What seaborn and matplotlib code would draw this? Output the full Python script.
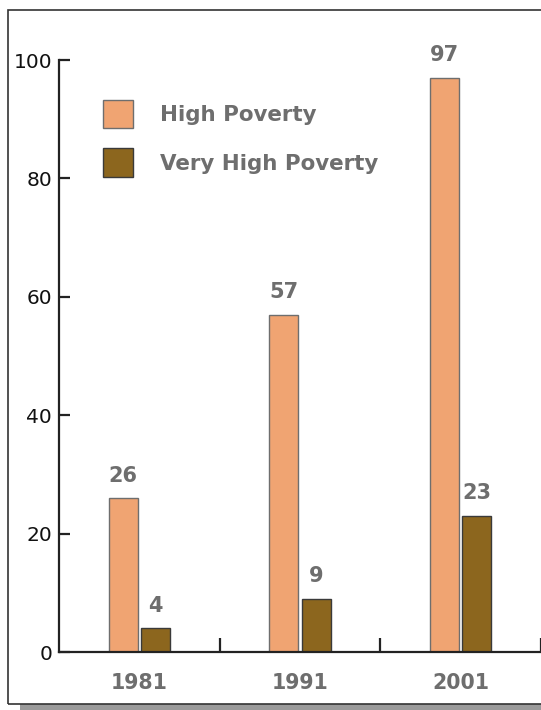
import matplotlib
matplotlib.use("Agg")
import matplotlib.pyplot as plt
import matplotlib.patches as mpatches
import seaborn as sns
import pandas as pd

# Data: number of high-poverty neighbourhoods by census year
years = ["1981", "1991", "2001"]
high_poverty = [26, 57, 97]
very_high_poverty = [4, 9, 23]
series_names = ["High Poverty", "Very High Poverty"]
y_ticks = [0, 20, 40, 60, 80, 100]

colors = ["#F0A472", "#8C661E"]
edge_colors = ["#6E6E6E", "#3A3A3A"]
label_gray = "#6E6E6E"

df = pd.DataFrame({
    "year": years * 2,
    "series": [series_names[0]] * 3 + [series_names[1]] * 3,
    "value": high_poverty + very_high_poverty,
})

sns.set_theme(style="white")
plt.rcParams["font.family"] = ["DejaVu Sans"]

fig = plt.figure(figsize=(5.41, 7.10), dpi=100)
W, H = 541, 710
ax = fig.add_axes([59 / W, 58 / H, 1 - 59 / W, (652 - 60) / H])

sns.barplot(data=df, x="year", y="value", hue="series", order=years,
            hue_order=series_names, palette=colors, width=0.4, gap=0.1,
            saturation=1, legend=False, ax=ax)

for container, ec in zip(ax.containers, edge_colors):
    for bar in container:
        bar.set_edgecolor(ec)
        bar.set_linewidth(1.0)
    ax.bar_label(container, padding=9, fontsize=15, fontweight="bold",
                 color=label_gray)

ax.set_xlim(-0.5, 2.5)
ax.set_ylim(0, 100)
ax.set_yticks(y_ticks)
ax.set_xlabel("")
ax.set_ylabel("")

for s in ["top", "right"]:
    ax.spines[s].set_visible(False)
for s in ["left", "bottom"]:
    ax.spines[s].set_color("#222222")
    ax.spines[s].set_linewidth(1.6)

ax.tick_params(axis="y", direction="in", length=8, width=1.6, color="#222222",
               labelsize=14.5, labelcolor="#111111", pad=5, left=True)
ax.tick_params(axis="x", which="major", length=0, pad=15, labelsize=14.8,
               labelcolor=label_gray)
for t in ax.get_xticklabels():
    t.set_fontweight("bold")
ax.set_xticks([0.5, 1.5, 2.5], minor=True)
ax.tick_params(axis="x", which="minor", direction="in", length=10, width=1.6,
               color="#222222", bottom=True)

handles = [mpatches.Patch(facecolor=c, edgecolor=ec, linewidth=1.0, label=n)
           for c, ec, n in zip(colors, edge_colors, series_names)]
leg = fig.legend(handles=handles, loc="upper left",
                 bbox_to_anchor=(103 / W, 1 - 100 / H), frameon=False,
                 borderpad=0, borderaxespad=0, fontsize=15.4,
                 handlelength=1.4, handleheight=1.65, handletextpad=1.25,
                 labelspacing=0.95)
for t in leg.get_texts():
    t.set_fontweight("bold")
    t.set_color(label_gray)

# Page frame with a drop shadow along the bottom edge
fig.patches.append(mpatches.Rectangle((20 / W, 0), 1.2, 6 / H,
                                      transform=fig.transFigure,
                                      facecolor="#9A9A9A", edgecolor="none",
                                      zorder=-2))
fig.patches.append(mpatches.Rectangle((8 / W, 6 / H), 1.2, (700 - 6) / H,
                                      transform=fig.transFigure,
                                      facecolor="none", edgecolor="#333333",
                                      linewidth=1.2, zorder=-1))

fig.savefig("out.png", dpi=100)
